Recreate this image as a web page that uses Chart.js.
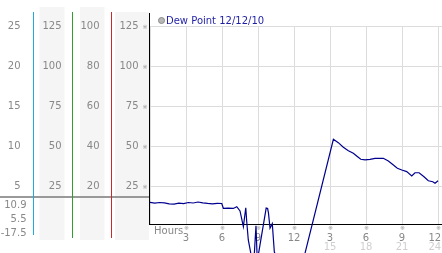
<!DOCTYPE html>
<html>
<head>
<meta charset="utf-8">
<script src="https://cdn.jsdelivr.net/npm/chart.js@4.4.1/dist/chart.umd.min.js"></script>
<style>
  html, body { margin: 0; padding: 0; background: #fff; }
  #wrap { width: 442px; height: 253px; }
</style>
</head>
<body>
<div id="wrap"><canvas id="dewChart" width="442" height="253"></canvas></div>
<script>
const seriesLabel = "Dew Point 12/12/10";

// hours since midnight and dew point readings
const hours = [
  0, 0.4, 0.8, 1.2, 1.6, 2.0, 2.4, 2.8, 3.2, 3.6, 4.0, 4.4, 4.8, 5.2, 5.6, 5.98,
  6.11, 6.5, 6.94, 7.23, 7.5, 7.78, 7.98, 8.06, 8.19, 8.42, 8.69, 8.83, 8.92, 9.03,
  9.68, 9.8, 9.87, 10.0, 10.19, 10.36, 10.46, 11.7, 12.89,
  15.28, 15.69, 16.11, 16.53, 16.94, 17.22, 17.56, 17.92, 18.33, 18.75, 19.44, 19.86,
  20.28, 20.61, 20.98, 21.39, 21.81, 22.08, 22.42, 22.83, 23.19, 23.56, 23.75, 24.0,
];
const dewPoint = [
  15.1, 14.6, 15.0, 14.8, 14.2, 14.0, 14.6, 14.3, 15.0, 14.7, 15.3, 14.8, 14.4, 14.2, 14.5, 14.4,
  11.4, 11.5, 11.3, 12.4, 9.7, -0.1, 11.7, 3.0, -8.4, -17.5, -17.5, 0.5, -17.5, -17.5,
  11.5, 11.2, 8.5, -1.0, 1.8, -16.0, -17.5, -17.5, -17.5,
  54.5, 52.4, 49.5, 47.4, 45.8, 44.1, 42.0, 41.6, 42.0, 42.6, 42.6, 40.9,
  38.4, 36.4, 35.3, 34.3, 31.6, 33.6, 33.6, 31.1, 28.6, 28.0, 27.0, 28.6,
];

const hourTicks = [3, 6, 9, 12, 15, 18, 21, 24];
const hourLabels = ["3", "6", "9", "12", "3", "6", "9", "12"];
const pmTicks = [15, 18, 21, 24];
const pmLabels = ["15", "18", "21", "24"];

const mainTicks = [25, 50, 75, 100, 125];
const colATicks = [5, 10, 15, 20, 25];
const colBTicks = [25, 50, 75, 100, 125];
const colCTicks = [20, 40, 60, 80, 100];
const readings = ["10.9", "5.5", "-17.5"];

Chart.defaults.font.family = "'DejaVu Sans', Verdana, sans-serif";
Chart.defaults.font.size = 10;
Chart.defaults.color = "#888";

const GRID = "#dcdcdc";

function fixed(list) {
  return (scale) => {
    scale.ticks = list.map((v) => ({ value: v }));
  };
}

// last label sits against the right edge, nudge it inwards
function edgeLabel(text, v) {
  return v === 24 ? text + "\u00a0\u00a0" : text;
}

function sideAxis(weight, min, max, list, width, pad) {
  return {
    type: "linear",
    position: "left",
    weight: weight,
    min: min,
    max: max,
    afterBuildTicks: fixed(list),
    afterFit: (scale) => {
      scale.width = width;
      scale.paddingTop = 0;
      scale.paddingBottom = 0;
    },
    grid: { display: false, drawTicks: false },
    border: { display: false },
    ticks: { padding: pad, color: "#888" },
  };
}

const decorations = {
  id: "decorations",
  beforeDraw(chart) {
    const ctx = chart.ctx;
    const s = chart.scales;
    ctx.save();
    ctx.fillStyle = "#fff";
    ctx.fillRect(0, 0, chart.width, chart.height);
    // shaded label columns
    ctx.fillStyle = "#f5f5f5";
    ctx.fillRect(s.colB.left + 6, 7, 25, 233);
    ctx.fillRect(s.colC.left + 7.5, 7, 24.5, 233);
    ctx.fillRect(s.y.left + 3.5, 12, 34, 228);
    ctx.restore();
  },
  beforeDatasetsDraw(chart) {
    const ctx = chart.ctx;
    const s = chart.scales;
    const area = chart.chartArea;
    ctx.save();
    // separator under the axis labels
    ctx.fillStyle = "#999";
    ctx.fillRect(0, 196, s.y.right, 2);
    // coloured axis rules, one device pixel wide
    const rules = [
      [s.colA.right, "#22a8dd", 235],
      [s.colB.right, "#2fa02f", 238],
      [s.colC.right, "#cc2828", 238],
    ];
    rules.forEach(([x, color, bottom]) => {
      ctx.fillStyle = color;
      ctx.fillRect(Math.round(x) - 1, 12, 1, bottom - 12);
    });
    ctx.fillStyle = "#000";
    ctx.fillRect(Math.round(area.left) - 1, 13, 1, area.bottom - 12.5);

    // reference marks on ticks
    ctx.fillStyle = "#999";
    ctx.font = "6px 'DejaVu Sans'";
    ctx.textAlign = "center";
    ctx.textBaseline = "middle";
    mainTicks.forEach((v) => {
      ctx.fillText("\u203B", area.left - 5, s.y.getPixelForValue(v) + 0.5);
    });
    hourTicks.forEach((v) => {
      ctx.fillText("\u203B", s.x.getPixelForValue(v) + 0.5, 228.5);
    });

    // current / min / max readings
    ctx.font = "10px 'DejaVu Sans'";
    ctx.fillStyle = "#888";
    ctx.textAlign = "right";
    readings.forEach((t, i) => {
      ctx.fillText(t, 26.5, 205.5 + i * 14);
    });

    ctx.textAlign = "left";
    ctx.fillText("Hours", area.left + 4, 231.5);

    // legend
    ctx.beginPath();
    ctx.arc(161.5, 20.5, 3, 0, Math.PI * 2);
    ctx.fillStyle = "#b8b8b8";
    ctx.fill();
    ctx.lineWidth = 1;
    ctx.strokeStyle = "#888";
    ctx.stroke();
    ctx.fillStyle = "#1f1fa6";
    ctx.fillText(chart.data.datasets[0].label, 166, 21);
    ctx.restore();
  },
};

new Chart(document.getElementById("dewChart"), {
  type: "line",
  data: {
    datasets: [
      {
        label: seriesLabel,
        data: hours.map((h, i) => ({ x: h, y: dewPoint[i] })),
        xAxisID: "x",
        yAxisID: "y",
        borderColor: "#00008f",
        borderWidth: 1.2,
        pointRadius: 0,
        tension: 0,
        clip: false,
      },
    ],
  },
  options: {
    responsive: false,
    animation: false,
    events: [],
    layout: { padding: { top: 26.5, left: 0, right: 0, bottom: 0 } },
    plugins: {
      legend: { display: false },
      tooltip: { enabled: false },
    },
    scales: {
      x: {
        type: "linear",
        position: "bottom",
        weight: 0,
        min: 0,
        max: 24.33,
        afterBuildTicks: fixed([0].concat(hourTicks)),
        afterFit: (scale) => {
          scale.height = 17;
          scale.paddingLeft = 0;
          scale.paddingRight = 0;
        },
        grid: { color: GRID, drawTicks: false },
        border: { display: true, color: "#000", width: 1 },
        ticks: {
          padding: 8,
          color: "#888",
          maxRotation: 0,
          autoSkip: false,
          callback: (v) => {
            const i = hourTicks.indexOf(v);
            return i < 0 ? "" : edgeLabel(hourLabels[i], v);
          },
        },
      },
      x2: {
        type: "linear",
        position: "bottom",
        weight: 1,
        min: 0,
        max: 24.33,
        afterBuildTicks: fixed(pmTicks),
        afterFit: (scale) => {
          scale.height = 11.5;
          scale.paddingLeft = 0;
          scale.paddingRight = 0;
        },
        grid: { display: false, drawTicks: false },
        border: { display: false },
        ticks: {
          padding: 0,
          color: "#cfcfcf",
          maxRotation: 0,
          autoSkip: false,
          callback: (v) => edgeLabel(pmLabels[pmTicks.indexOf(v)], v),
        },
      },
      colA: sideAxis(4, 0.25, 25, colATicks, 33.5, 13),
      colB: sideAxis(3, 1.25, 125, colBTicks, 39, 11),
      colC: sideAxis(2, 1.0, 100, colCTicks, 39, 12),
      y: {
        type: "linear",
        position: "left",
        weight: 1,
        min: 1.25,
        max: 125,
        afterBuildTicks: fixed(mainTicks),
        afterFit: (scale) => {
          scale.width = 38.5;
          scale.paddingTop = 0;
          scale.paddingBottom = 0;
        },
        grid: { color: GRID, drawTicks: false },
        border: { display: false },
        ticks: { padding: 11.5, color: "#888" },
      },
    },
  },
  plugins: [decorations],
});
</script>
</body>
</html>
